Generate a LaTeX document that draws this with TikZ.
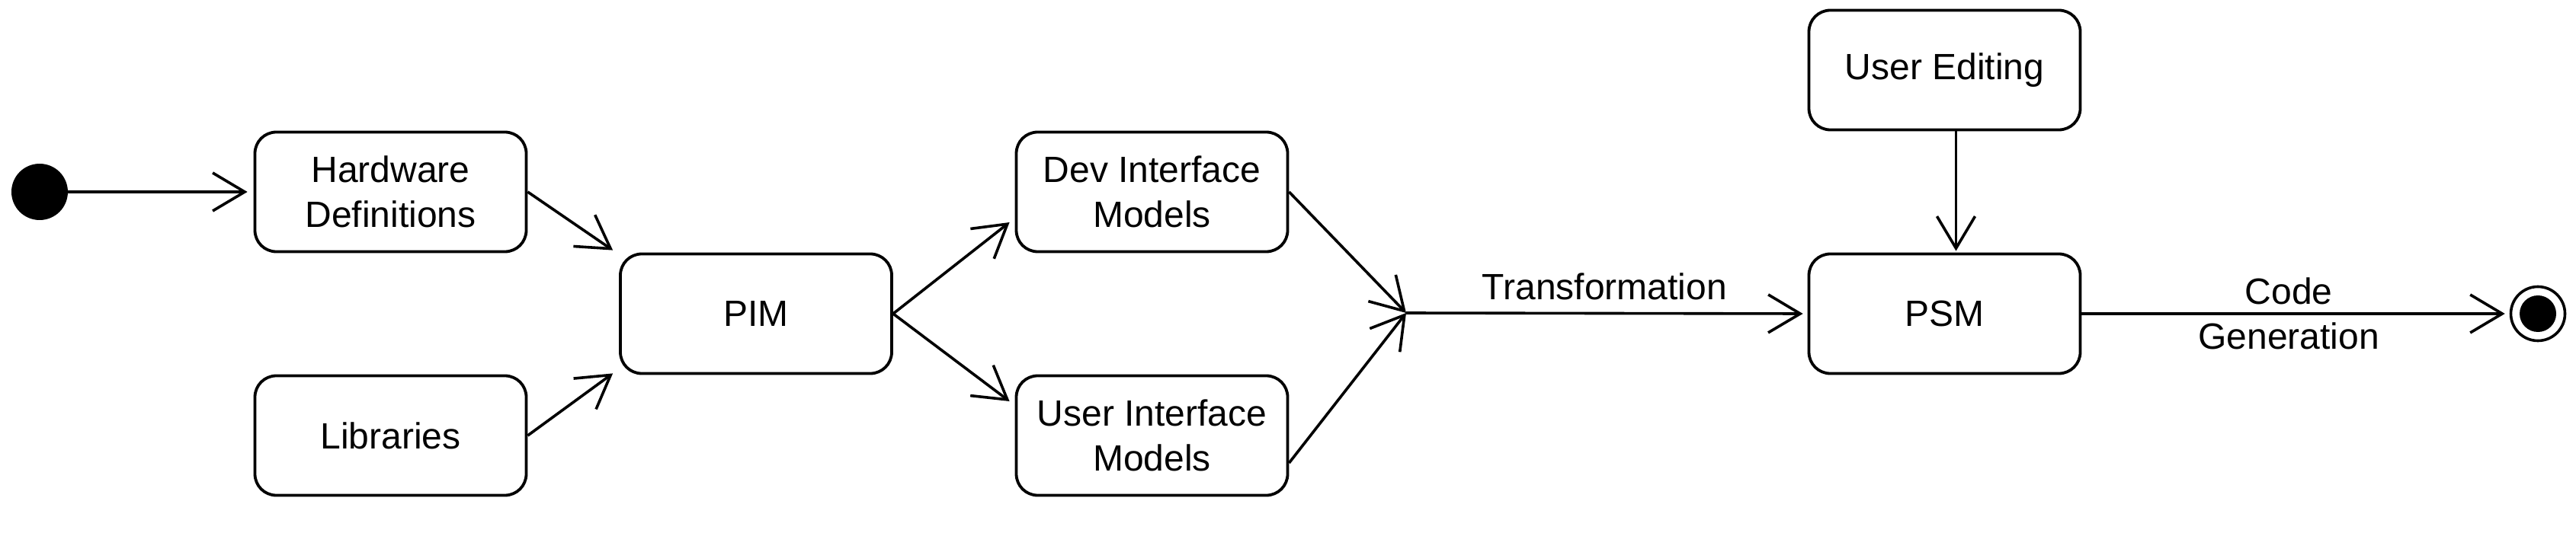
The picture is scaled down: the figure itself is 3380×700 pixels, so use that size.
\documentclass[tikz,border=0pt]{standalone}
\usepackage{fontspec}
\setmainfont{Liberation Sans}
\usetikzlibrary{arrows.meta,calc}
\tikzset{
  box/.style={draw, line width=1.9pt, rounded corners=14pt, minimum width=178pt, minimum height=78.5pt, align=center, inner sep=0pt, font=\fontsize{24pt}{29.5pt}\selectfont},
  flow/.style={draw, line width=1.8pt, -{Straight Barb[length=21pt,width=25pt]}},
  lbl/.style={inner sep=0pt, align=center, font=\fontsize{24pt}{29.5pt}\selectfont},
  startnode/.style={circle, fill=black, minimum size=37pt, inner sep=0pt},
  endnode/.style={circle, draw, line width=1.8pt, minimum size=35.5pt, inner sep=0pt,
    path picture={\fill[black] (path picture bounding box.center) circle (12pt);}}
}
\begin{document}
\begin{tikzpicture}[x=0.5pt,y=-0.5pt]
\useasboundingbox (0,0) rectangle (3380,700);
\node[startnode] (start) at (52,252) {};
\node[box] (hw) at (512.5,252) {Hardware\\Definitions};
\node[box] (lib) at (512.5,572) {Libraries};
\node[box] (pim) at (992,412) {PIM};
\node[box] (dev) at (1511.5,252) {Dev Interface\\Models};
\node[box] (ui) at (1511.5,572) {User Interface\\Models};
\coordinate (J) at (1845,411);
\node[box] (ue) at (2551.5,92) {User Editing};
\node[box] (psm) at (2551.5,412) {PSM};
\node[endnode] (end) at (3330,412) {};

\draw[flow] (start) -- ($(hw.west)+(-8,0)$);
\draw[flow] (hw.east) -- ($(pim.north west)+(-8,-3)$);
\draw[flow] (lib.east) -- ($(pim.south west)+(-8,-2)$);
\draw[flow] (pim.east) -- ($(dev.west)+(-7,40)$);
\draw[flow] (pim.east) -- ($(ui.west)+(-7,-45)$);
\draw[flow] (dev.east) -- (J);
\draw[flow] ($(ui.east)+(0,36)$) -- (J);
\draw[flow] (J) -- node[lbl, above=8pt] {Transformation} ($(psm.west)+(-6,0)$);
\draw[flow] ($(ue.south)+(15,0)$) -- ($(psm.north)+(15,-2)$);
\draw[flow] (psm.east) -- node[lbl, xshift=-3pt] {Code\\Generation} ($(end.west)+(-6,0)$);
\end{tikzpicture}
\end{document}
